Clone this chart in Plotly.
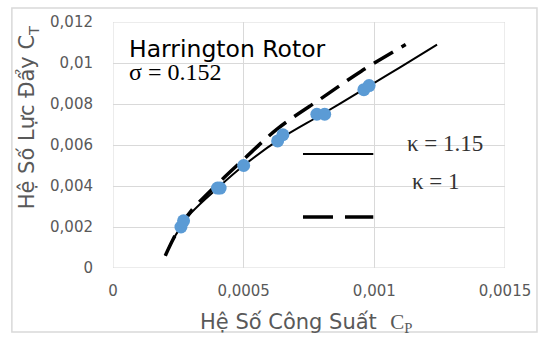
import plotly.graph_objects as go

# Measured points (CP, CT)
meas_cp = [0.00026, 0.00027, 0.00040, 0.00041, 0.00050, 0.00063, 0.00065, 0.00078, 0.00081, 0.00096, 0.00098]
meas_ct = [0.0020, 0.0023, 0.0039, 0.0039, 0.0050, 0.0062, 0.0065, 0.0075, 0.0075, 0.0087, 0.0089]

# Theory curve kappa = 1.15 (solid)
k115_cp = [0.00020, 0.00023, 0.00026, 0.00030, 0.00040, 0.00050, 0.00064, 0.00080, 0.00097, 0.00110, 0.00124]
k115_ct = [0.0006, 0.0014, 0.0020, 0.0027, 0.0039, 0.0050, 0.0063, 0.0075, 0.0088, 0.0098, 0.0109]

# Theory curve kappa = 1 (dashed)
k1_cp = [0.00020, 0.00023, 0.00026, 0.00030, 0.00040, 0.00050, 0.00063, 0.00080, 0.00095, 0.00112]
k1_ct = [0.0006, 0.0014, 0.0021, 0.0028, 0.0041, 0.0053, 0.0068, 0.0083, 0.0096, 0.0109]

# Axis ticks
x_ticks = [0, 0.0005, 0.001, 0.0015]
x_labels = ["0", "0,0005", "0,001", "0,0015"]
y_ticks = [0, 0.002, 0.004, 0.006, 0.008, 0.010, 0.012]
y_labels = ["0", "0,002", "0,004", "0,006", "0,008", "0,01", "0,012"]

# Legend key segments (CP range, CT level)
key_cp = [0.000727, 0.000996]
key_solid_ct = 0.00556
key_dash_ct = 0.00249

SANS = "DejaVu Sans"
SERIF = "Liberation Serif"
GREY = "#595959"
GRID = "#d9d9d9"

fig = go.Figure()
fig.add_trace(go.Scatter(x=k115_cp, y=k115_ct, mode="lines", line=dict(color="black", width=2, shape="spline"),
                         showlegend=False, hoverinfo="skip"))
fig.add_trace(go.Scatter(x=k1_cp, y=k1_ct, mode="lines", line=dict(color="black", width=3.5, shape="spline", dash="22px,10px"),
                         showlegend=False, hoverinfo="skip"))
fig.add_trace(go.Scatter(x=meas_cp, y=meas_ct, mode="markers", marker=dict(color="#5B9BD5", size=13),
                         showlegend=False))
fig.add_trace(go.Scatter(x=key_cp, y=[key_solid_ct] * 2, mode="lines", line=dict(color="black", width=2),
                         showlegend=False, hoverinfo="skip"))
fig.add_trace(go.Scatter(x=key_cp, y=[key_dash_ct] * 2, mode="lines", line=dict(color="black", width=3.5, dash="30px,12px"),
                         showlegend=False, hoverinfo="skip"))

fig.update_layout(
    width=547, height=338,
    margin=dict(l=113, r=42, t=22, b=70, autoexpand=False),
    paper_bgcolor="white", plot_bgcolor="white",
    xaxis=dict(range=[0, 0.0015], tickvals=x_ticks, ticktext=x_labels, showgrid=True, gridcolor=GRID, gridwidth=1,
               zeroline=False, showline=False, tickfont=dict(family=SANS, size=15, color=GREY),
               ticklabelstandoff=12, automargin=False),
    yaxis=dict(range=[0, 0.012], tickvals=y_ticks, ticktext=y_labels, showgrid=True, gridcolor=GRID, gridwidth=1,
               zeroline=False, showline=False, tickfont=dict(family=SANS, size=15, color=GREY),
               ticklabelstandoff=19, automargin=False),
    shapes=[
        dict(type="rect", xref="paper", yref="paper", x0=-0.258, x1=1.0816, y0=-0.26, y1=1.057,
             line=dict(color=GRID, width=1.5), layer="above"),
        dict(type="line", xref="x", yref="paper", x0=0, x1=0, y0=0, y1=1, line=dict(color=GRID, width=1), layer="below"),
        dict(type="line", xref="x", yref="paper", x0=0.0015, x1=0.0015, y0=0, y1=1, line=dict(color=GRID, width=1), layer="below"),
        dict(type="line", xref="paper", yref="y", x0=0, x1=1, y0=0, y1=0, line=dict(color=GRID, width=1), layer="below"),
        dict(type="line", xref="paper", yref="y", x0=0, x1=1, y0=0.012, y1=0.012, line=dict(color=GRID, width=1), layer="below"),
    ],
    annotations=[
        dict(text="Harrington Rotor", xref="paper", yref="paper", x=0.035, y=0.89, xanchor="left", yanchor="middle",
             showarrow=False, font=dict(family=SANS, size=23.5, color="black")),
        dict(text="σ = 0.152", xref="paper", yref="paper", x=0.035, y=0.797, xanchor="left", yanchor="middle",
             showarrow=False, font=dict(family=SERIF, size=24, color="black")),
        dict(text="κ = 1.15", xref="paper", yref="paper", x=0.745, y=0.508, xanchor="left", yanchor="middle",
             showarrow=False, font=dict(family=SERIF, size=23, color="#333333")),
        dict(text="κ = 1", xref="paper", yref="paper", x=0.757, y=0.35, xanchor="left", yanchor="middle",
             showarrow=False, font=dict(family=SERIF, size=23, color="#333333")),
        dict(text="Hệ Số Công Suất  <span style='font-family:Liberation Serif'>C<sub>P</sub></span>",
             xref="paper", yref="paper", x=0.492, y=-0.224, xanchor="center", yanchor="middle",
             showarrow=False, font=dict(family=SANS, size=21, color=GREY)),
        dict(text="Hệ Số Lực Đẩy C<sub>T</sub>", textangle=-90,
             xref="paper", yref="paper", x=-0.216, y=0.614, xanchor="center", yanchor="middle",
             showarrow=False, font=dict(family=SANS, size=21, color=GREY)),
    ],
)

fig.write_html("out.html", config={"displayModeBar": False},
               post_script="document.body.style.margin='0';document.body.style.overflow='hidden';")
